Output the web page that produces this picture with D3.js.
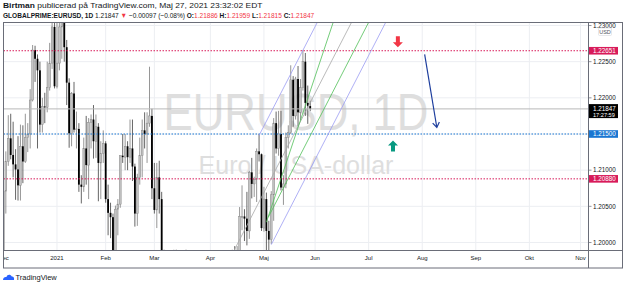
<!DOCTYPE html>
<html>
<head>
<meta charset="utf-8">
<script src="https://cdnjs.cloudflare.com/ajax/libs/d3/7.8.5/d3.min.js"></script>
<style>
html, body { margin: 0; padding: 0; background: #fff; }
svg { display: block; font-family: "Liberation Sans", Arial, sans-serif; }
</style>
</head>
<body>
<div id="chart"></div>
<script>
// Daily EURUSD bars, Dec 2020 - May 2021 (one entry per bar)
const dates = [
    "2020-12-01","2020-12-02","2020-12-03","2020-12-04","2020-12-07","2020-12-08","2020-12-09","2020-12-10","2020-12-11","2020-12-14","2020-12-15","2020-12-16","2020-12-17","2020-12-18","2020-12-21","2020-12-22","2020-12-23","2020-12-24","2020-12-28","2020-12-29","2020-12-30","2020-12-31",
    "2021-01-04","2021-01-05","2021-01-06","2021-01-07","2021-01-08","2021-01-11","2021-01-12","2021-01-13","2021-01-14","2021-01-15","2021-01-18","2021-01-19","2021-01-20","2021-01-21","2021-01-22","2021-01-25","2021-01-26","2021-01-27","2021-01-28","2021-01-29",
    "2021-02-01","2021-02-02","2021-02-03","2021-02-04","2021-02-05","2021-02-08","2021-02-09","2021-02-10","2021-02-11","2021-02-12","2021-02-15","2021-02-16","2021-02-17","2021-02-18","2021-02-19","2021-02-22","2021-02-23","2021-02-24","2021-02-25","2021-02-26",
    "2021-03-01","2021-03-02","2021-03-03","2021-03-04","2021-03-05","2021-03-08","2021-03-09","2021-03-10","2021-03-11","2021-03-12","2021-03-15","2021-03-16","2021-03-17","2021-03-18","2021-03-19","2021-03-22","2021-03-23","2021-03-24","2021-03-25","2021-03-26","2021-03-29","2021-03-30","2021-03-31",
    "2021-04-01","2021-04-02","2021-04-05","2021-04-06","2021-04-07","2021-04-08","2021-04-09","2021-04-12","2021-04-13","2021-04-14","2021-04-15","2021-04-16","2021-04-19","2021-04-20","2021-04-21","2021-04-22","2021-04-23","2021-04-26","2021-04-27","2021-04-28","2021-04-29","2021-04-30",
    "2021-05-03","2021-05-04","2021-05-05","2021-05-06","2021-05-07","2021-05-10","2021-05-11","2021-05-12","2021-05-13","2021-05-14","2021-05-17","2021-05-18","2021-05-19","2021-05-20","2021-05-21","2021-05-24","2021-05-25","2021-05-26","2021-05-27","2021-05-28"
];
const opens = [
    1.1927,1.2071,1.2112,1.2144,1.2121,1.2108,1.2101,1.2079,1.2133,1.2112,1.2145,1.2150,1.2197,1.2266,1.2254,1.2238,1.2163,1.2188,1.2187,1.2214,1.2248,1.2298,
    1.2216,1.2248,1.2298,1.2326,1.2270,1.2221,1.2151,1.2206,1.2156,1.2157,1.2080,1.2077,1.2130,1.2107,1.2166,1.2170,1.2140,1.2160,1.2110,1.2123,
    1.2137,1.2060,1.2041,1.2035,1.1963,1.2046,1.2053,1.2120,1.2118,1.2133,1.2118,1.2130,1.2105,1.2040,1.2090,1.2120,1.2155,1.2150,1.2165,1.2175,
    1.2075,1.2045,1.2090,1.2060,1.1966,1.1915,1.1847,1.1900,1.1928,1.1985,1.1952,1.1930,1.1902,1.1978,1.1915,1.1905,1.1935,1.1850,1.1815,1.1775,1.1795,1.1765,1.1720,
    1.1730,1.1778,1.1762,1.1812,1.1874,1.1870,1.1915,1.1900,1.1910,1.1945,1.1980,1.1965,1.1985,1.2036,1.2036,1.2033,1.2016,1.2097,1.2081,1.2087,1.2126,1.2122,
    1.2020,1.2060,1.2016,1.2004,1.2066,1.2165,1.2130,1.2150,1.2076,1.2081,1.2145,1.2152,1.2225,1.2175,1.2226,1.2180,1.2214,1.2250,1.2193,1.21886
];
const highs = [
    1.2077,1.2126,1.2176,1.2178,1.2167,1.2129,1.2147,1.2163,1.2162,1.2178,1.2165,1.2212,1.2273,1.2272,1.2260,1.2250,1.2200,1.2207,1.2250,1.2276,1.2310,1.2310,
    1.2310,1.2306,1.2349,1.2340,1.2280,1.2227,1.2208,1.2222,1.2181,1.2165,1.2093,1.2145,1.2175,1.2172,1.2177,1.2190,1.2177,1.2165,1.2140,1.2155,
    1.2140,1.2080,1.2055,1.2040,1.2051,1.2060,1.2120,1.2150,1.2150,1.2140,1.2170,1.2170,1.2109,1.2095,1.2145,1.2170,1.2180,1.2180,1.2243,1.2185,
    1.2110,1.2110,1.2113,1.2070,1.1990,1.1935,1.1910,1.1930,1.1990,1.1990,1.1955,1.1950,1.1985,1.1990,1.1935,1.1944,1.1940,1.1855,1.1830,1.1800,1.1800,1.1775,1.1750,
    1.1790,1.1785,1.1820,1.1875,1.1905,1.1925,1.1927,1.1915,1.1935,1.1990,1.1995,1.1995,1.2049,1.2079,1.2046,1.2070,1.2099,1.2117,1.2091,1.2130,1.2150,1.2123,
    1.2077,1.2069,1.2030,1.2071,1.2172,1.2181,1.2182,1.2182,1.2093,1.2152,1.2162,1.2245,1.2230,1.2229,1.2244,1.2226,1.2266,1.2262,1.2217,1.21959
];
const lows = [
    1.1925,1.2040,1.2106,1.2115,1.2090,1.2059,1.2058,1.2058,1.2082,1.2110,1.2125,1.2130,1.2195,1.2222,1.2130,1.2152,1.2152,1.2165,1.2180,1.2210,1.2240,1.2213,
    1.2213,1.2238,1.2254,1.2250,1.2190,1.2131,1.2133,1.2152,1.2130,1.2070,1.2054,1.2070,1.2080,1.2060,1.2130,1.2116,1.2117,1.2057,1.2060,1.2110,
    1.2055,1.2010,1.2006,1.1950,1.1952,1.2010,1.2048,1.2110,1.2100,1.2100,1.2110,1.2085,1.2022,1.2023,1.2080,1.2090,1.2130,1.2110,1.2160,1.2060,
    1.2040,1.2020,1.2040,1.1964,1.1893,1.1836,1.1835,1.1876,1.1915,1.1910,1.1910,1.1880,1.1885,1.1905,1.1873,1.1880,1.1835,1.1808,1.1762,1.1760,1.1760,1.1710,1.1704,
    1.1723,1.1740,1.1740,1.1800,1.1850,1.1860,1.1870,1.1870,1.1875,1.1945,1.1955,1.1960,1.1960,1.2017,1.2002,1.1996,1.2005,1.2061,1.2063,1.2056,1.2112,1.2016,
    1.2015,1.1986,1.1985,1.1998,1.2030,1.2123,1.2120,1.2072,1.2052,1.2075,1.2130,1.2150,1.2160,1.2170,1.2161,1.2169,1.2210,1.2175,1.2164,1.21815
];
const closes = [
    1.2071,1.2112,1.2144,1.2121,1.2108,1.2101,1.2079,1.2133,1.2112,1.2145,1.2150,1.2197,1.2266,1.2254,1.2238,1.2163,1.2188,1.2187,1.2214,1.2248,1.2298,1.2216,
    1.2248,1.2298,1.2326,1.2270,1.2221,1.2151,1.2206,1.2156,1.2157,1.2080,1.2077,1.2130,1.2107,1.2166,1.2170,1.2140,1.2160,1.2110,1.2123,1.2137,
    1.2060,1.2041,1.2035,1.1963,1.2046,1.2053,1.2120,1.2118,1.2133,1.2118,1.2130,1.2105,1.2040,1.2090,1.2120,1.2155,1.2150,1.2165,1.2175,1.2075,
    1.2045,1.2090,1.2060,1.1966,1.1915,1.1847,1.1900,1.1928,1.1985,1.1952,1.1930,1.1902,1.1978,1.1915,1.1905,1.1935,1.1850,1.1815,1.1775,1.1795,1.1765,1.1720,1.1730,
    1.1778,1.1762,1.1812,1.1874,1.1870,1.1915,1.1900,1.1910,1.1945,1.1980,1.1965,1.1985,1.2036,1.2036,1.2033,1.2016,1.2097,1.2081,1.2087,1.2126,1.2122,1.2020,
    1.2060,1.2016,1.2004,1.2066,1.2165,1.2130,1.2150,1.2076,1.2081,1.2145,1.2152,1.2225,1.2175,1.2226,1.2180,1.2214,1.2250,1.2193,1.2189,1.21847
];

// Axis ticks
const monthTicks = ["2020-12-01","2021-01-04","2021-02-01","2021-03-01","2021-04-01","2021-05-03","2021-06-01","2021-07-01","2021-08-02","2021-09-01","2021-10-01","2021-11-01"];
const monthLabels = ["Dec","2021","Feb","Mar","Apr","Maj","Jun","Jul","Aug","Sep","Okt","Nov"];
const priceTicks = [1.200, 1.205, 1.210, 1.215, 1.220, 1.225, 1.230];

// Horizontal levels drawn on the chart
const levelPrices = [1.22651, 1.21500, 1.20880];
const levelColors = ["#d81b5a", "#1976d2", "#d81b5a"];
const lastPrice = 1.21847;
const lastCountdown = "17:27:59";

// Pitchfork points (handle, upper, lower) and its drawn levels
const forkDates = ["2021-04-06", "2021-04-29", "2021-05-06"];
const forkPrices = [1.1945, 1.2148, 1.1997];
const forkLevels = [0, 0.5, 0.75, 1];
const forkColors = ["#9a9cf2", "#a8a8a8", "#4fbf57", "#9a9cf2"];

// Steeper green trend line (extended to the right)
const trendDates = ["2021-05-04", "2021-06-10"];
const trendPrices = [1.2028, 1.2300];

// Arrow marks and the blue arrow drawing
const downMarkDate = "2021-07-19", downMarkPrice = 1.2270;
const upMarkDate = "2021-07-15", upMarkPrice = 1.2141;
const arrowDates = ["2021-08-03", "2021-08-10"];
const arrowPrices = [1.2260, 1.2159];

const W = 625, H = 283;
const plot = { left: 3.5, right: 588.5, top: 22.5, bottom: 250.5 };

const parse = d3.timeParse("%Y-%m-%d");
const lastDate = parse(dates[dates.length - 1]);

// Bars are spaced by trading day, so future dates count weekdays after the last bar
function barIndex(s) {
    const i = dates.indexOf(s);
    if (i >= 0) return i;
    const d = parse(s);
    const days = d3.timeDay.range(d3.timeDay.offset(lastDate, 1), d3.timeDay.offset(d, 1))
        .filter(t => t.getDay() !== 0 && t.getDay() !== 6);
    return dates.length - 1 + days.length;
}

const x = d3.scaleLinear().domain([0, 240]).range([3.4, 587.8]);
const y = d3.scaleLinear().domain([1.20, 1.23]).range([242.5, 25.5]);

const svg = d3.select("#chart").append("svg")
    .attr("width", W).attr("height", H);

const defs = svg.append("defs");
defs.append("clipPath").attr("id", "plotClip").append("rect")
    .attr("x", plot.left).attr("y", plot.top)
    .attr("width", plot.right - plot.left).attr("height", plot.bottom - plot.top);
defs.append("clipPath").attr("id", "timeClip").append("rect")
    .attr("x", plot.left).attr("y", plot.bottom)
    .attr("width", plot.right - plot.left).attr("height", 18);
defs.append("clipPath").attr("id", "priceClip").append("rect")
    .attr("x", plot.right).attr("y", plot.top)
    .attr("width", W - plot.right).attr("height", plot.bottom - plot.top);

// Squeeze a text horizontally to a target width (the original font is narrower)
function fitWidth(grp, text, width) {
    const len = text.node().getComputedTextLength();
    const t = grp.attr("transform");
    grp.attr("transform", `${t} scale(${width / len},1)`);
}

// Header
const h1g = svg.append("g").attr("transform", "translate(3,8)");
const head1 = h1g.append("text").attr("font-size", 8).attr("fill", "#131722");
head1.append("tspan").attr("font-weight", "bold").text("Birtman");
head1.append("tspan").text(" publicerad på TradingView.com, Maj 27, 2021 23:32:02 EDT");
fitWidth(h1g, head1, 260);

const h2g = svg.append("g").attr("transform", "translate(3,17.5)");
const head2 = h2g.append("text").attr("font-size", 7.5).attr("fill", "#131722");
const red = "#f23645";
[["GLOBALPRIME:EURUSD, 1D", "bold", null], ["  1.21847 ", null, null], ["▼", null, red],
 [" −0.00097 (−0.08%) ", null, null], ["O:", "bold", null], ["1.21886", null, red],
 [" H:", "bold", null], ["1.21959", null, red], [" L:", "bold", null], ["1.21815", null, red],
 [" C:", "bold", null], ["1.21847", null, red]].forEach(p => {
    const t = head2.append("tspan").text(p[0]);
    if (p[1]) t.attr("font-weight", p[1]);
    if (p[2]) t.attr("fill", p[2]);
});
fitWidth(h2g, head2, 312);

const g = svg.append("g").attr("clip-path", "url(#plotClip)");

// Grid
g.selectAll(".vgrid").data(monthTicks).enter().append("line")
    .attr("x1", d => x(barIndex(d))).attr("x2", d => x(barIndex(d)))
    .attr("y1", plot.top).attr("y2", plot.bottom)
    .attr("stroke", "#eceef2").attr("stroke-width", 1);
g.selectAll(".hgrid").data(priceTicks).enter().append("line")
    .attr("x1", plot.left).attr("x2", plot.right)
    .attr("y1", d => y(d)).attr("y2", d => y(d))
    .attr("stroke", "#eceef2").attr("stroke-width", 1);

// Watermark
const cx = (plot.left + plot.right) / 2;
const wm1g = g.append("g").attr("transform", `translate(${cx},130)`);
const wm1 = wm1g.append("text").attr("text-anchor", "middle")
    .attr("font-size", 51).attr("fill", "#dedede").text("EURUSD, 1D");
fitWidth(wm1g, wm1, 265);
const wm2g = g.append("g").attr("transform", `translate(${cx},173.5)`);
const wm2 = wm2g.append("text").attr("text-anchor", "middle")
    .attr("font-size", 25).attr("fill", "#dedede").text("Euro / USA-dollar");
fitWidth(wm2g, wm2, 195);

// Candles
const idx = d3.range(dates.length);
g.selectAll(".wick").data(idx).enter().append("line")
    .attr("x1", i => x(i)).attr("x2", i => x(i))
    .attr("y1", i => y(highs[i])).attr("y2", i => y(lows[i]))
    .attr("stroke", i => closes[i] >= opens[i] ? "#8a8a8a" : "#555")
    .attr("stroke-width", 0.9);
g.selectAll(".body").data(idx).enter().append("rect")
    .attr("x", i => x(i) - 0.9).attr("width", 1.8)
    .attr("y", i => y(Math.max(opens[i], closes[i])))
    .attr("height", i => Math.max(0.8, Math.abs(y(opens[i]) - y(closes[i]))))
    .attr("fill", i => closes[i] >= opens[i] ? "#c4c4c4" : "#000")
    .attr("stroke", i => closes[i] >= opens[i] ? "#8a8a8a" : "none")
    .attr("stroke-width", 0.5);

// Last price line
g.append("line").attr("x1", plot.left).attr("x2", plot.right)
    .attr("y1", y(lastPrice)).attr("y2", y(lastPrice))
    .attr("stroke", "#b8b8b8").attr("stroke-width", 1);

// Dotted levels
g.selectAll(".level").data(levelPrices).enter().append("line")
    .attr("x1", plot.left).attr("x2", plot.right)
    .attr("y1", d => y(d)).attr("y2", d => y(d))
    .attr("stroke", (d, k) => levelColors[k]).attr("stroke-width", 1)
    .attr("stroke-dasharray", "1.5,1.5");

// Pitchfork
const P = forkDates.map((d, k) => [x(barIndex(d)), y(forkPrices[k])]);
const M = [(P[1][0] + P[2][0]) / 2, (P[1][1] + P[2][1]) / 2];
const v = [M[0] - P[0][0], M[1] - P[0][1]];
const vl = Math.hypot(v[0], v[1]);
const dir = [v[0] / vl, v[1] / vl];
forkLevels.forEach((t, k) => {
    const s = t === 0.5 ? P[0] : [P[1][0] + t * (P[2][0] - P[1][0]), P[1][1] + t * (P[2][1] - P[1][1])];
    g.append("line")
        .attr("x1", s[0]).attr("y1", s[1])
        .attr("x2", s[0] + dir[0] * 600).attr("y2", s[1] + dir[1] * 600)
        .attr("stroke", forkColors[k]).attr("stroke-width", 0.8);
});

// Green trend line, extended
const t0 = [x(barIndex(trendDates[0])), y(trendPrices[0])];
const t1 = [x(barIndex(trendDates[1])), y(trendPrices[1])];
g.append("line")
    .attr("x1", t0[0]).attr("y1", t0[1])
    .attr("x2", t0[0] + (t1[0] - t0[0]) * 3).attr("y2", t0[1] + (t1[1] - t0[1]) * 3)
    .attr("stroke", "#4fbf57").attr("stroke-width", 0.8);

// Arrow marks
const dx = x(barIndex(downMarkDate)), dy = y(downMarkPrice);
g.append("path")
    .attr("d", `M${dx},${dy} L${dx - 5},${dy - 5} L${dx - 2},${dy - 5} L${dx - 2},${dy - 11} L${dx + 2},${dy - 11} L${dx + 2},${dy - 5} L${dx + 5},${dy - 5} Z`)
    .attr("fill", "#f23645");
const ux = x(barIndex(upMarkDate)), uy = y(upMarkPrice);
g.append("path")
    .attr("d", `M${ux},${uy} L${ux - 5},${uy + 5} L${ux - 2},${uy + 5} L${ux - 2},${uy + 11} L${ux + 2},${uy + 11} L${ux + 2},${uy + 5} L${ux + 5},${uy + 5} Z`)
    .attr("fill", "#089981");

// Blue arrow
const a0 = [x(barIndex(arrowDates[0])), y(arrowPrices[0])];
const a1 = [x(barIndex(arrowDates[1])), y(arrowPrices[1])];
const ang = Math.atan2(a1[1] - a0[1], a1[0] - a0[0]);
const hl = 6, ha = 0.6;
g.append("path")
    .attr("d", `M${a0[0]},${a0[1]} L${a1[0]},${a1[1]}` +
        ` M${a1[0] - hl * Math.cos(ang - ha)},${a1[1] - hl * Math.sin(ang - ha)} L${a1[0]},${a1[1]}` +
        ` L${a1[0] - hl * Math.cos(ang + ha)},${a1[1] - hl * Math.sin(ang + ha)}`)
    .attr("fill", "none").attr("stroke", "#1f3f9e").attr("stroke-width", 1.2);

// Time axis (first label is cut by the left edge, as in the original)
svg.append("g").attr("clip-path", "url(#timeClip)")
    .selectAll("text").data(monthTicks).enter().append("text")
    .attr("x", d => x(barIndex(d))).attr("y", 260)
    .attr("text-anchor", "middle").attr("font-size", 6).attr("fill", "#131722")
    .text((d, k) => monthLabels[k]);

// Price axis
const pa = svg.append("g").attr("clip-path", "url(#priceClip)");
priceTicks.forEach(p => {
    pa.append("line").attr("x1", plot.right).attr("x2", plot.right + 3)
        .attr("y1", y(p)).attr("y2", y(p)).attr("stroke", "#787b86").attr("stroke-width", 0.8);
    pa.append("text").attr("x", 593).attr("y", y(p) + 2.2)
        .attr("font-size", 6.3).attr("fill", "#131722")
        .text(p.toFixed(5));
});
levelPrices.forEach((p, k) => {
    pa.append("rect").attr("x", plot.right + 0.5).attr("y", y(p) - 3.8)
        .attr("width", 29).attr("height", 7.6).attr("fill", levelColors[k]);
    pa.append("text").attr("x", 593).attr("y", y(p) + 2.2)
        .attr("font-size", 6.3).attr("fill", "#fff").text(p.toFixed(5));
});
pa.append("rect").attr("x", plot.right + 0.5).attr("y", y(lastPrice) - 4.8)
    .attr("width", 29).attr("height", 14).attr("fill", "#000");
pa.append("text").attr("x", 593).attr("y", y(lastPrice) + 2.2)
    .attr("font-size", 6.3).attr("fill", "#fff").text(lastPrice.toFixed(5));
pa.append("text").attr("x", 593).attr("y", y(lastPrice) + 8.2)
    .attr("font-size", 5.6).attr("fill", "#fff").text(lastCountdown);

// Currency tag
svg.append("rect").attr("x", 598.5).attr("y", 28).attr("width", 13).attr("height", 7.5)
    .attr("fill", "#fff").attr("stroke", "#d6d8de").attr("stroke-width", 0.6).attr("rx", 1);
svg.append("text").attr("x", 605).attr("y", 34).attr("text-anchor", "middle")
    .attr("font-size", 5.5).attr("fill", "#50535e").text("USD");

// Frame
svg.append("rect").attr("x", plot.left).attr("y", plot.top)
    .attr("width", 622.5 - plot.left).attr("height", 268 - plot.top)
    .attr("fill", "none").attr("stroke", "#6a6d78").attr("stroke-width", 1);
svg.append("line").attr("x1", plot.right).attr("x2", plot.right)
    .attr("y1", plot.top).attr("y2", 268).attr("stroke", "#6a6d78");
svg.append("line").attr("x1", plot.left).attr("x2", 622.5)
    .attr("y1", plot.bottom).attr("y2", plot.bottom).attr("stroke", "#6a6d78");

// Footer logo
const logo = svg.append("g").attr("transform", "translate(3,274)");
logo.append("path")
    .attr("d", "M0,6 C0,3.5 2,2.5 3.5,3 C4,0.5 7.5,0 8.8,2.5 C10.5,2.3 11.5,4 11,6 Z")
    .attr("fill", "#2962ff");
svg.append("text").attr("x", 15.5).attr("y", 280).attr("font-size", 7.5)
    .attr("fill", "#131722").text("TradingView");
</script>
</body>
</html>
